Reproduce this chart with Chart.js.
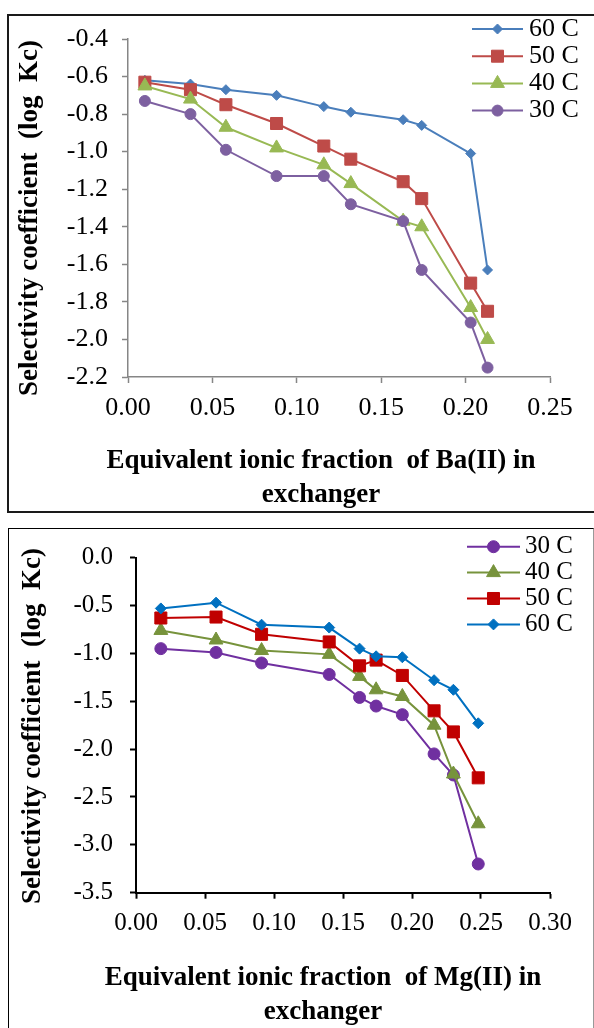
<!DOCTYPE html>
<html>
<head>
<meta charset="utf-8">
<script src="https://cdn.jsdelivr.net/npm/chart.js@4.4.1/dist/chart.umd.min.js"></script>
<style>
  body { margin: 0; background: #fff; width: 594px; height: 1028px; position: relative; overflow: hidden; }
  .frame { position: absolute; box-sizing: border-box; }
  #frameBa { left: 7px; top: 14px; width: 600px; height: 499px; border: 2px solid #1a1a1a; }
  #frameMg { left: 8px; top: 528px; width: 586px; height: 520px; border: 1px solid #000; border-right-color: #999; }
  .holder { position: absolute; left: 0; width: 594px; height: 514px; }
</style>
</head>
<body>
<div class="frame" id="frameBa"></div>
<div class="frame" id="frameMg"></div>
<div class="holder" style="top:0"><canvas id="baChart"></canvas></div>
<div class="holder" style="top:514px"><canvas id="mgChart"></canvas></div>
<script>
// Ba(II) in exchanger
const baFraction = [0.010, 0.037, 0.058, 0.088, 0.116, 0.132, 0.163, 0.174, 0.203, 0.213];
const ba60 = [-0.62, -0.64, -0.67, -0.70, -0.76, -0.79, -0.83, -0.86, -1.01, -1.63];
const ba50 = [-0.63, -0.67, -0.75, -0.85, -0.97, -1.04, -1.16, -1.25, -1.70, -1.85];
const ba40 = [-0.65, -0.72, -0.87, -0.98, -1.07, -1.17, -1.37, -1.40, -1.83, -2.00];
const ba30 = [-0.73, -0.80, -0.99, -1.13, -1.13, -1.28, -1.37, -1.63, -1.91, -2.15];

// Mg(II) in exchanger
const mgFraction = [0.018, 0.058, 0.091, 0.140, 0.162, 0.174, 0.193, 0.216, 0.230, 0.248];
const mg30 = [-0.95, -0.99, -1.10, -1.22, -1.46, -1.55, -1.64, -2.05, -2.27, -3.20];
const mg40 = [-0.76, -0.86, -0.97, -1.01, -1.24, -1.38, -1.45, -1.75, -2.26, -2.78];
const mg50 = [-0.63, -0.62, -0.80, -0.88, -1.13, -1.07, -1.23, -1.60, -1.82, -2.30];
const mg60 = [-0.53, -0.47, -0.70, -0.73, -0.95, -1.03, -1.04, -1.28, -1.38, -1.73];

const yTitle = 'Selectivity coefficient  (log  Kc)';
const serif = '"Liberation Serif", "Times New Roman", serif';

const pts = (xs, ys) => xs.map((x, i) => ({ x: x, y: ys[i] }));

function series(label, xs, ys, color, style, radius, order) {
  return {
    label: label,
    data: pts(xs, ys),
    borderColor: color,
    backgroundColor: color,
    borderWidth: 2,
    pointStyle: style,
    pointRadius: radius,
    pointBorderWidth: 1,
    pointBackgroundColor: color,
    pointBorderColor: color,
    order: order,
    tension: 0
  };
}

function axis(min, max, step, digits, color, width, pad, size, fit) {
  return {
    type: 'linear', min: min, max: max,
    ticks: { stepSize: step, color: '#000', padding: pad, autoSkip: false, maxRotation: 0,
      font: { family: serif, size: size }, callback: v => v.toFixed(digits) },
    grid: { drawOnChartArea: false, drawTicks: true, tickLength: 6, color: color, tickWidth: width },
    border: { color: color, width: width },
    afterFit: fit
  };
}

// legend with line + marker, like the spreadsheet one
const lineLegend = {
  id: 'lineLegend',
  afterDraw(chart, args, opts) {
    const ctx = chart.ctx;
    ctx.save();
    chart.data.datasets.forEach((ds, i) => {
      const y = opts.y + i * opts.gap;
      ctx.strokeStyle = ds.borderColor;
      ctx.lineWidth = ds.borderWidth;
      ctx.beginPath();
      ctx.moveTo(opts.x, y);
      ctx.lineTo(opts.x + opts.len, y);
      ctx.stroke();
      ctx.fillStyle = ds.backgroundColor;
      ctx.lineWidth = 1;
      Chart.helpers.drawPoint(ctx, { pointStyle: ds.pointStyle, radius: ds.pointRadius, borderWidth: 1, rotation: 0 },
        opts.x + opts.len / 2, y);
      ctx.fillStyle = '#000';
      ctx.font = opts.size + 'px ' + serif;
      ctx.textAlign = 'left';
      ctx.textBaseline = 'middle';
      ctx.fillText(ds.label, opts.x + opts.len + opts.textGap, y);
    });
    ctx.restore();
  }
};

// axis captions placed where the original puts them
const captions = {
  id: 'captions',
  afterDraw(chart, args, opts) {
    const ctx = chart.ctx;
    ctx.save();
    ctx.fillStyle = '#000';
    ctx.font = 'bold 27px ' + serif;
    ctx.textAlign = 'center';
    ctx.textBaseline = 'middle';
    opts.xLines.forEach((t, i) => ctx.fillText(t, opts.xCenter, opts.xTop + i * 34));
    ctx.translate(opts.yX, opts.yCenter);
    ctx.rotate(-Math.PI / 2);
    ctx.fillText(yTitle, 0, 0);
    ctx.restore();
  }
};

new Chart(document.getElementById('baChart'), {
  type: 'line',
  data: {
    datasets: [
      series('60 C', baFraction, ba60, '#4A7EBB', 'rectRot', 5, 3),
      series('50 C', baFraction, ba50, '#BE4B48', 'rect', 8.5, 2),
      series('40 C', baFraction, ba40, '#98B954', 'triangle', 8, 1),
      series('30 C', baFraction, ba30, '#7D60A0', 'circle', 5.5, 0)
    ]
  },
  options: {
    responsive: true,
    maintainAspectRatio: false,
    animation: false,
    events: [],
    layout: { padding: { top: 39, right: 44, left: 0, bottom: 0 } },
    scales: {
      x: axis(0, 0.25, 0.05, 2, '#868686', 1.5, 10, 26, s => { s.height = 137; }),
      y: axis(-2.2, -0.4, 0.2, 1, '#868686', 1.5, 14, 26, s => { s.width = 128; })
    },
    plugins: {
      legend: { display: false },
      tooltip: { enabled: false },
      lineLegend: { x: 472, y: 29, gap: 27.2, len: 51, textGap: 6, size: 26 },
      captions: { xLines: ['Equivalent ionic fraction  of Ba(II) in', 'exchanger'], xCenter: 321, xTop: 461, yX: 30, yCenter: 218 }
    }
  },
  plugins: [lineLegend, captions]
});

new Chart(document.getElementById('mgChart'), {
  type: 'line',
  data: {
    datasets: [
      series('30 C', mgFraction, mg30, '#7030A0', 'circle', 6, 3),
      series('40 C', mgFraction, mg40, '#77933C', 'triangle', 8, 2),
      series('50 C', mgFraction, mg50, '#C00000', 'rect', 8.5, 1),
      series('60 C', mgFraction, mg60, '#0070C0', 'rectRot', 5.5, 0)
    ]
  },
  options: {
    responsive: true,
    maintainAspectRatio: false,
    animation: false,
    events: [],
    layout: { padding: { top: 43.7, right: 44, left: 0, bottom: 0 } },
    scales: {
      x: axis(0, 0.30, 0.05, 2, '#000', 2, 10, 25, s => { s.height = 135.3; }),
      y: axis(-3.5, 0, 0.5, 1, '#000', 2, 17, 25, s => { s.width = 136; })
    },
    plugins: {
      legend: { display: false },
      tooltip: { enabled: false },
      lineLegend: { x: 467, y: 32.7, gap: 25.9, len: 53, textGap: 5, size: 25 },
      captions: { xLines: ['Equivalent ionic fraction  of Mg(II) in', 'exchanger'], xCenter: 323, xTop: 464, yX: 33, yCenter: 212 }
    }
  },
  plugins: [lineLegend, captions]
});
</script>
</body>
</html>
